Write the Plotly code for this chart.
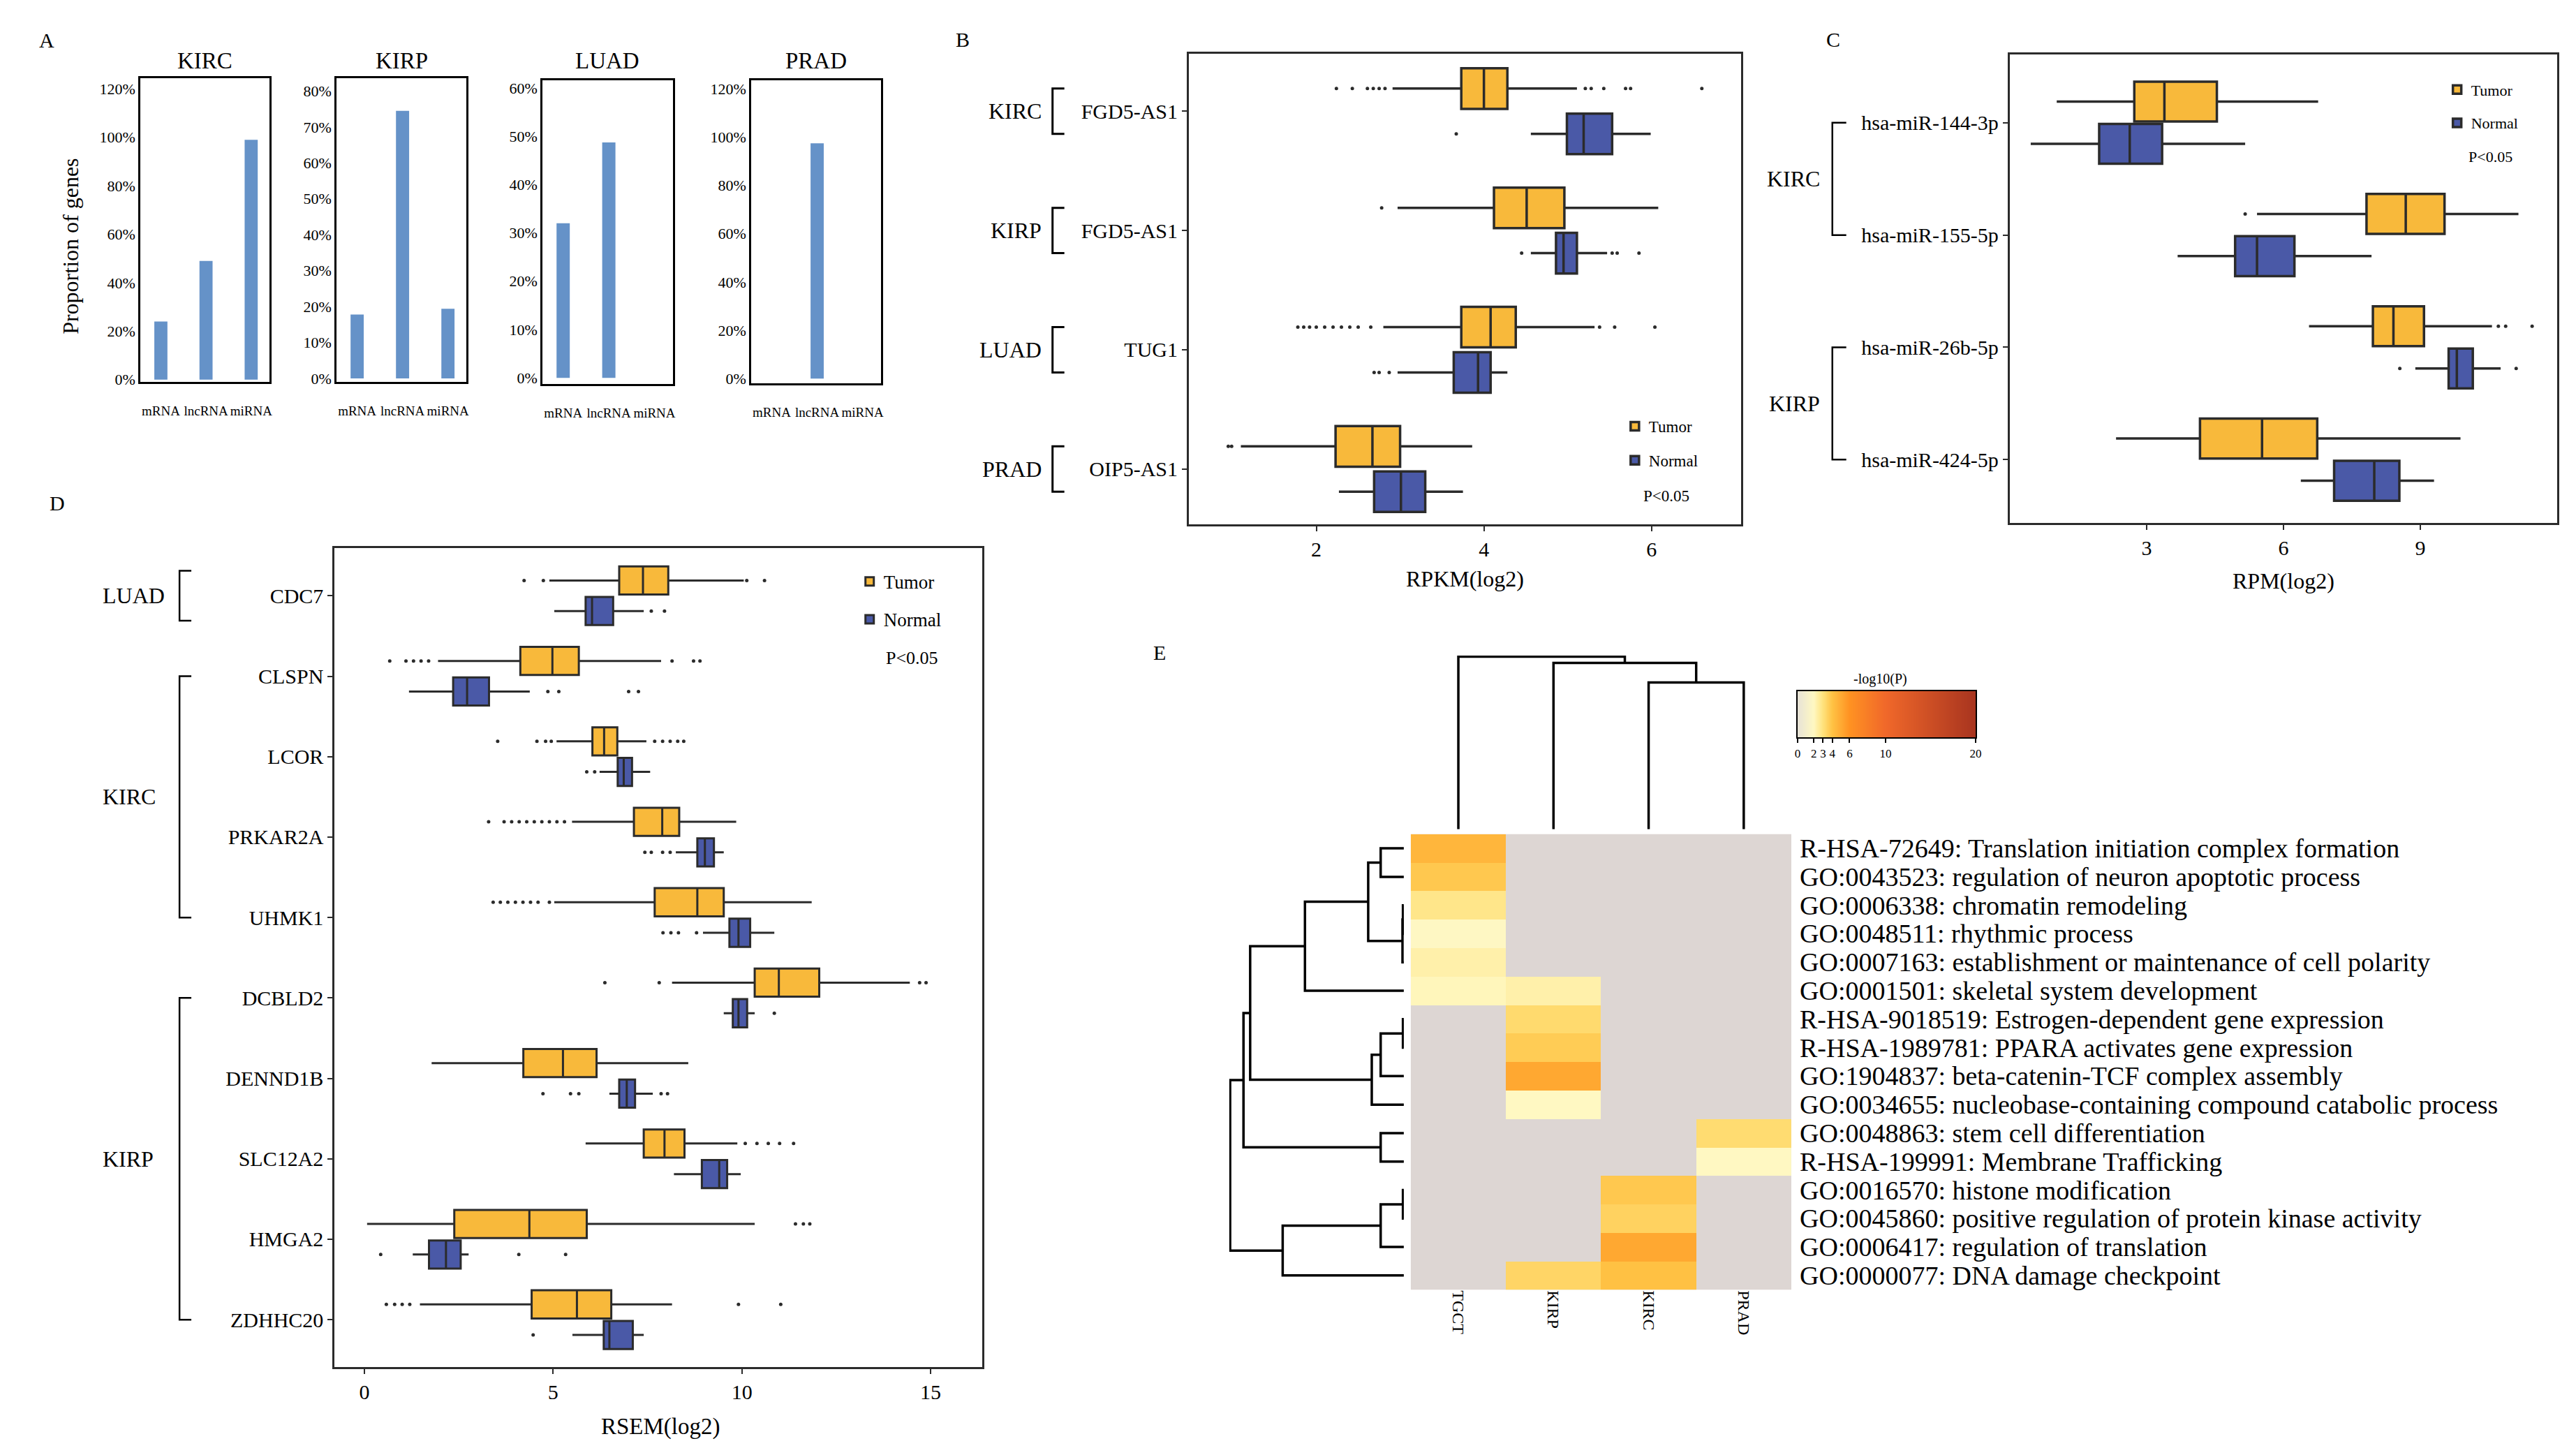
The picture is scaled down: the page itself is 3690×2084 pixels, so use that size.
import numpy as np
import plotly.graph_objects as go

# ======================= DATA =======================
# Panel A : proportion of genes (%)
A_cancers = ["KIRC", "KIRP", "LUAD", "PRAD"]
A_types = ["mRNA", "lncRNA", "miRNA"]
A_kirc = [24.0, 49.0, 99.0]
A_kirp = [17.8, 74.5, 19.4]
A_luad = [32.0, 48.7, 0.0]
A_prad = [0.0, 97.4, 0.0]
A_ticksteps = [20, 10, 10, 20]

# Panel B : RPKM(log2)  stats = [lower whisker, Q1, median, Q3, upper whisker]
B_cancers = ["KIRC", "KIRP", "LUAD", "PRAD"]
B_genes = ["FGD5-AS1", "FGD5-AS1", "TUG1", "OIP5-AS1"]
B_tumor = [[2.91, 3.73, 4.00, 4.28, 5.11],
           [2.97, 4.12, 4.51, 4.96, 6.08],
           [2.80, 3.73, 4.08, 4.38, 5.32],
           [1.10, 2.23, 2.67, 3.00, 3.86]]
B_normal = [[4.56, 4.99, 5.19, 5.53, 5.99],
            [4.56, 4.86, 4.95, 5.11, 5.47],
            [2.97, 3.64, 3.93, 4.08, 4.28],
            [2.27, 2.69, 3.01, 3.30, 3.75]]
B_tumor_out = [[2.24, 2.43, 2.61, 2.68, 2.75, 2.82, 5.21, 5.28, 5.43, 5.69, 5.75, 6.60],
               [2.78],
               [1.78, 1.85, 1.92, 2.0, 2.1, 2.2, 2.3, 2.4, 2.5, 2.65, 5.38, 5.56, 6.04],
               [0.95, 0.99]]
B_normal_out = [[3.67], [4.45, 5.53, 5.59, 5.85], [2.69, 2.75, 2.87], []]

# Panel C : RPM(log2)
C_groups = ["KIRC", "KIRP"]
C_mirs = ["hsa-miR-144-3p", "hsa-miR-155-5p", "hsa-miR-26b-5p", "hsa-miR-424-5p"]
C_tumor = [[1.03, 2.73, 3.39, 4.54, 6.76],
           [5.42, 7.82, 8.68, 9.53, 11.15],
           [6.56, 7.96, 8.41, 9.08, 10.57],
           [2.33, 4.17, 5.53, 6.74, 9.88]]
C_normal = [[0.46, 1.96, 2.63, 3.34, 5.16],
            [3.68, 4.94, 5.42, 6.24, 7.93],
            [8.89, 9.62, 9.80, 10.15, 10.76],
            [6.38, 7.11, 7.99, 8.54, 9.30]]
C_tumor_out = [[], [5.16], [10.71, 10.87, 11.45], []]
C_normal_out = [[], [], [8.55, 11.1], []]

# Panel D : RSEM(log2)
D_genes = ["CDC7", "CLSPN", "LCOR", "PRKAR2A", "UHMK1",
           "DCBLD2", "DENND1B", "SLC12A2", "HMGA2", "ZDHHC20"]
D_group_names = ["LUAD", "KIRC", "KIRP"]
D_group_first = [0, 1, 5]
D_group_last = [0, 4, 9]
D_tumor = [[4.90, 6.75, 7.38, 8.05, 10.05],
           [1.95, 4.13, 4.98, 5.68, 7.86],
           [5.09, 6.04, 6.35, 6.70, 7.47],
           [5.50, 7.14, 7.89, 8.34, 9.85],
           [5.03, 7.69, 8.82, 9.52, 11.85],
           [8.15, 10.34, 10.98, 12.05, 14.45],
           [1.78, 4.21, 5.26, 6.15, 8.58],
           [5.86, 7.40, 7.95, 8.48, 9.88],
           [0.07, 2.38, 4.37, 5.89, 10.34],
           [1.47, 4.43, 5.63, 6.54, 8.15]]
D_normal = [[5.03, 5.86, 6.03, 6.59, 7.40],
            [1.18, 2.35, 2.72, 3.30, 4.38],
            [6.23, 6.71, 6.87, 7.09, 7.57],
            [8.25, 8.82, 9.02, 9.26, 9.52],
            [8.97, 9.67, 9.91, 10.22, 10.86],
            [9.52, 9.76, 9.91, 10.14, 10.34],
            [6.49, 6.75, 6.95, 7.17, 7.64],
            [8.20, 8.94, 9.40, 9.61, 9.97],
            [1.28, 1.71, 2.16, 2.55, 2.76],
            [5.51, 6.34, 6.49, 7.11, 7.40]]
D_tumor_out = [[4.23, 4.74, 10.13, 10.6],
               [0.67, 1.1, 1.3, 1.5, 1.7, 8.15, 8.72, 8.89],
               [3.53, 4.57, 4.8, 4.95, 7.69, 7.9, 8.1, 8.3, 8.46],
               [3.29, 3.7, 3.9, 4.1, 4.3, 4.5, 4.7, 4.9, 5.1, 5.3],
               [3.41, 3.6, 3.8, 4.0, 4.2, 4.4, 4.6, 4.9],
               [6.37, 7.81, 14.71, 14.88],
               [],
               [10.09, 10.4, 10.7, 11.0, 11.37],
               [11.42, 11.63, 11.8],
               [0.58, 0.8, 1.0, 1.2, 9.91, 11.03]]
D_normal_out = [[7.6, 7.95],
                [4.86, 5.15, 7.0, 7.26],
                [5.89, 6.1],
                [7.43, 7.6, 7.9, 8.1],
                [7.91, 8.12, 8.32, 8.8],
                [10.86],
                [4.73, 5.46, 5.68, 7.86, 8.03],
                [],
                [0.43, 4.09, 5.33],
                [4.47]]

# Panel E : enrichment heatmap (-log10 P), None = not enriched
E_cols = ["TGCT", "KIRP", "KIRC", "PRAD"]
E_terms = [
    "R-HSA-72649: Translation initiation complex formation",
    "GO:0043523: regulation of neuron apoptotic process",
    "GO:0006338: chromatin remodeling",
    "GO:0048511: rhythmic process",
    "GO:0007163: establishment or maintenance of cell polarity",
    "GO:0001501: skeletal system development",
    "R-HSA-9018519: Estrogen-dependent gene expression",
    "R-HSA-1989781: PPARA activates gene expression",
    "GO:1904837: beta-catenin-TCF complex assembly",
    "GO:0034655: nucleobase-containing compound catabolic process",
    "GO:0048863: stem cell differentiation",
    "R-HSA-199991: Membrane Trafficking",
    "GO:0016570: histone modification",
    "GO:0045860: positive regulation of protein kinase activity",
    "GO:0006417: regulation of translation",
    "GO:0000077: DNA damage checkpoint",
]
N = None
E_vals = [[4.5, N, N, N],
          [3.8, N, N, N],
          [2.8, N, N, N],
          [1.9, N, N, N],
          [2.35, N, N, N],
          [2.1, 2.35, N, N],
          [N, 3.25, N, N],
          [N, 3.7, N, N],
          [N, 5.1, N, N],
          [N, 2.0, N, N],
          [N, N, N, 3.2],
          [N, N, N, 2.0],
          [N, N, 3.8, N],
          [N, N, 3.5, N],
          [N, N, 5.1, N],
          [N, 3.4, 4.05, N]]
# dendrograms: (child a, child b, height); merged nodes numbered after leaves
E_row_merges = [(0, 1, 52), (2, 3, 2), (17, 4, 3), (16, 18, 80), (19, 5, 222),
                (6, 7, 2), (21, 8, 52), (22, 9, 72), (20, 23, 345), (10, 11, 52),
                (24, 25, 360), (12, 13, 2), (27, 14, 52), (28, 15, 272), (26, 29, 390)]
E_col_merges = [(2, 3, 300), (1, 4, 340), (0, 5, 353)]
# colour key
E_key_vals = [0, 2, 3, 4, 6, 10, 20]
E_key_pos = [0.0, 0.091, 0.143, 0.195, 0.292, 0.494, 1.0]
E_key_colors = ["#E7E3D7", "#FFF8C2", "#FFE27C", "#FFC244", "#FF9222", "#F0682A", "#A8341F"]

# ======================= STYLE / HELPERS =======================
W, H = 3690, 2084
FONT = "Liberation Serif"
TUMOR_FILL = "#F8B93B"
NORMAL_FILL = "#4A59A7"
EDGE = "#2B2B2B"
BAR = "#6592C8"


def fx(p):
    return p / W


def fy(p):
    return 1 - p / H


fig = go.Figure()
layout = dict(width=W, height=H, margin=dict(l=0, r=0, t=0, b=0),
              paper_bgcolor="white", plot_bgcolor="rgba(0,0,0,0)",
              font=dict(family=FONT, color="black"), showlegend=True)
annotations = []
shapes = []


def ann(text, x, y, size, xanchor="center", yanchor="middle", xref="paper", yref="paper", angle=0):
    annotations.append(dict(text=text, x=x, y=y, xref=xref, yref=yref, showarrow=False,
                            xanchor=xanchor, yanchor=yanchor, textangle=angle,
                            font=dict(family=FONT, size=size, color="black")))


# ======================= PANEL A =======================
A_values = [A_kirc, A_kirp, A_luad, A_prad]
A_box = [(190, 375, 103, 540), (472, 658, 103, 540), (768, 955, 106, 543), (1068, 1254, 106, 542)]
A_range = [(-1, 124.3), (-1, 83.5), (-1.3, 61.5), (-2, 123.4)]
for i, cname in enumerate(A_cancers):
    n = i + 1
    xs = "" if n == 1 else str(n)
    x0, x1, y0, y1 = A_box[i]
    fig.add_trace(go.Bar(x=A_types, y=A_values[i], marker=dict(color=BAR, line=dict(width=0)),
                         width=0.29, showlegend=False, xaxis="x" + xs, yaxis="y" + xs))
    layout["xaxis" + xs] = dict(domain=[fx(x0), fx(x1)], anchor="y" + xs, range=[-0.45, 2.4],
                                showline=True, mirror=True, linecolor="black", linewidth=3,
                                ticks="", tickangle=0, tickfont=dict(size=19),
                                ticklabelstandoff=22,
                                showgrid=False, zeroline=False)
    layout["yaxis" + xs] = dict(domain=[fy(y1), fy(y0)], anchor="x" + xs, range=list(A_range[i]),
                                dtick=A_ticksteps[i], tick0=0, ticksuffix="%",
                                showline=True, mirror=True, linecolor="black", linewidth=3,
                                ticks="", tickfont=dict(size=22), showgrid=False, zeroline=False)
    ann(cname, fx((x0 + x1) / 2), fy(77), 33)
ann("Proportion of genes", fx(89), fy(345), 32, angle=-90)
ann("A", fx(55), fy(48), 30)


# ======================= BOX PANELS =======================
def box_panel(idx, dom, xr, yr, labels, tumor, normal, t_out, n_out, off, bw, xticks,
              legend_name, lw, tickfont):
    xa, ya = f"x{idx}", f"y{idx}"
    pos = np.arange(len(labels))
    for name, stats, outs, sign, fill in [("Tumor", tumor, t_out, -1, TUMOR_FILL),
                                          ("Normal", normal, n_out, 1, NORMAL_FILL)]:
        st = np.array(stats)
        fig.add_trace(go.Box(name=name, orientation="h", y=pos + sign * off,
                             lowerfence=st[:, 0], q1=st[:, 1], median=st[:, 2],
                             q3=st[:, 3], upperfence=st[:, 4],
                             fillcolor=fill, line=dict(color=EDGE, width=lw),
                             whiskerwidth=0, width=bw, boxpoints=False,
                             xaxis=xa, yaxis=ya, legend=legend_name,
                             legendgroup=f"{legend_name}-{name}", showlegend=True))
        ox, oy = [], []
        for i, vals in enumerate(outs):
            ox += list(vals)
            oy += [i + sign * off] * len(vals)
        fig.add_trace(go.Scatter(x=ox, y=oy, mode="markers",
                                 marker=dict(size=5, color=EDGE), showlegend=False,
                                 xaxis=xa, yaxis=ya))
    x0, x1, y0, y1 = dom
    layout[f"xaxis{idx}"] = dict(domain=[fx(x0), fx(x1)], anchor=ya, range=list(xr),
                                 tickvals=xticks, ticks="outside", ticklen=7, tickwidth=2,
                                 tickcolor=EDGE, showline=True, mirror=True, linecolor=EDGE,
                                 linewidth=3, showgrid=False, zeroline=False,
                                 tickfont=dict(size=tickfont))
    layout[f"yaxis{idx}"] = dict(domain=[fy(y1), fy(y0)], anchor=xa, range=list(yr),
                                 tickvals=list(pos), ticktext=labels, ticks="outside",
                                 ticklen=7, tickwidth=2, tickcolor=EDGE, showline=True,
                                 mirror=True, linecolor=EDGE, linewidth=3, showgrid=False,
                                 zeroline=False, tickfont=dict(size=tickfont))


def bracket(xv, xt, ya, yb, yref, width=2.5):
    shapes.append(dict(type="path", xref="paper", yref=yref,
                       path=f"M {fx(xt)},{ya} L {fx(xv)},{ya} L {fx(xv)},{yb} L {fx(xt)},{yb}",
                       line=dict(color="black", width=width)))


# ---- B ----
box_panel(5, (1697, 2491, 67, 745), (0.48, 7.07), (3.464, -0.484), B_genes, B_tumor, B_normal,
          B_tumor_out, B_normal_out, 0.19, 0.34, [2, 4, 6], "legend", 3.5, 30)
for i, c in enumerate(B_cancers):
    bracket(1501, 1518, i - 0.19, i + 0.19, "y5", 3)
    ann(c, fx(1487), i, 32, xanchor="right", yref="y5")
ann("RPKM(log2)", fx(2094), fy(823), 32)
ann("P<0.05", fx(2383), fy(704), 23)
ann("B", fx(1372), fy(47), 30)
layout["legend"] = dict(x=fx(2318), y=fy(582), xanchor="left", yanchor="top",
                        font=dict(size=23, family=FONT), bgcolor="rgba(0,0,0,0)",
                        traceorder="grouped", tracegroupgap=16, itemwidth=30)

# ---- C ----
box_panel(6, (2877, 3664, 68, 743), (0.0, 12.0), (3.564, -0.61), C_mirs, C_tumor, C_normal,
          C_tumor_out, C_normal_out, 0.188, 0.355, [3, 6, 9], "legend2", 3.5, 30)
for g, c in enumerate(C_groups):
    bracket(2622, 2642, 2 * g, 2 * g + 1, "y6", 2.5)
    ann(c, fx(2606), 2 * g + 0.5, 32, xanchor="right", yref="y6")
ann("RPM(log2)", fx(3271), fy(826), 32)
ann("P<0.05", fx(3568), fy(216), 22)
ann("C", fx(2623), fy(47), 30)
layout["legend2"] = dict(x=fx(3500), y=fy(98), xanchor="left", yanchor="top",
                         font=dict(size=22, family=FONT), bgcolor="rgba(0,0,0,0)",
                         traceorder="grouped", tracegroupgap=16, itemwidth=30)

# ---- D ----
box_panel(7, (469, 1400, 779, 1958), (-0.79, 16.37), (9.586, -0.594), D_genes, D_tumor, D_normal,
          D_tumor_out, D_normal_out, 0.19, 0.35, [0, 5, 10, 15], "legend3", 3, 30)
for gname, a, b in zip(D_group_names, D_group_first, D_group_last):
    ya, yb = (a - 0.31, b + 0.31) if a == b else (a, b)
    bracket(246, 263, ya, yb, "y7", 2.5)
    ann(gname, fx(133), (a + b) / 2, 32, xanchor="left", yref="y7")
ann("RSEM(log2)", fx(938), fy(2044), 33)
ann("P<0.05", fx(1299), fy(937), 26)
ann("D", fx(70), fy(714), 30)
layout["legend3"] = dict(x=fx(1218), y=fy(803), xanchor="left", yanchor="top",
                         font=dict(size=27, family=FONT), bgcolor="rgba(0,0,0,0)",
                         traceorder="grouped", tracegroupgap=16, itemwidth=30)

# ======================= PANEL E =======================
hm_x = (2016, 2563)
hm_y = (1191, 1847)
nrow, ncol = len(E_terms), len(E_cols)
E_scale = [[v / 20.0, c] for v, c in zip(E_key_vals, E_key_colors)]

shapes.append(dict(type="rect", xref="x8 domain", yref="y8 domain", x0=0, x1=1, y0=0, y1=1,
                   fillcolor="#DDD6D3", line=dict(width=0), layer="below"))
fig.add_trace(go.Heatmap(z=E_vals, x=list(range(ncol)), y=list(range(nrow)),
                         colorscale=E_scale, zmin=0, zmax=20, showscale=False,
                         xaxis="x8", yaxis="y8", hoverongaps=False))
layout["xaxis8"] = dict(domain=[fx(hm_x[0]), fx(hm_x[1])], anchor="y8", range=[-0.5, ncol - 0.5],
                        tickvals=list(range(ncol)), ticktext=E_cols, tickangle=90, ticks="",
                        tickfont=dict(size=24), showline=False, showgrid=False, zeroline=False)
layout["yaxis8"] = dict(domain=[fy(hm_y[1]), fy(hm_y[0])], anchor="x8", range=[nrow - 0.5, -0.5],
                        showticklabels=False, ticks="", showline=False, showgrid=False,
                        zeroline=False)
for i, t in enumerate(E_terms):
    ann(t, fx(2573), i, 38, xanchor="left", yref="y8")


def dendro_lines(n_leaves, merges):
    pos = {i: float(i) for i in range(n_leaves)}
    hgt = {i: 0.0 for i in range(n_leaves)}
    P, Hh = [], []
    for k, (a, b, h) in enumerate(merges):
        P += [pos[a], pos[a], pos[b], pos[b], None]
        Hh += [hgt[a], h, h, hgt[b], None]
        node = n_leaves + k
        pos[node] = (pos[a] + pos[b]) / 2
        hgt[node] = h
    return P, Hh


# column dendrogram
cp, ch = dendro_lines(ncol, E_col_merges)
fig.add_trace(go.Scatter(x=cp, y=ch, mode="lines", line=dict(color="black", width=3.5),
                         showlegend=False, xaxis="x9", yaxis="y9", hoverinfo="skip"))
layout["xaxis9"] = dict(domain=[fx(hm_x[0]), fx(hm_x[1])], anchor="y9", range=[-0.5, ncol - 0.5],
                        visible=False)
layout["yaxis9"] = dict(domain=[fy(1184), fy(934)], anchor="x9",
                        range=[0, max(m[2] for m in E_col_merges) + 2], visible=False)

# row dendrogram
rp, rh = dendro_lines(nrow, E_row_merges)
fig.add_trace(go.Scatter(x=rh, y=rp, mode="lines", line=dict(color="black", width=3.5),
                         showlegend=False, xaxis="x10", yaxis="y10", hoverinfo="skip"))
layout["xaxis10"] = dict(domain=[fx(1755), fx(2006)], anchor="y10",
                         range=[max(m[2] for m in E_row_merges) + 2, 0], visible=False)
layout["yaxis10"] = dict(domain=[fy(hm_y[1]), fy(hm_y[0])], anchor="x10",
                         range=[nrow - 0.5, -0.5], visible=False)

# colour key
key_t = np.linspace(0, 1, 400)
key_z = [list(np.interp(key_t, E_key_pos, E_key_vals))]
fig.add_trace(go.Heatmap(z=key_z, x=key_t, y=[0], colorscale=E_scale, zmin=0, zmax=20,
                         showscale=False, xaxis="x11", yaxis="y11", hoverinfo="skip"))
layout["xaxis11"] = dict(domain=[fx(2572), fx(2828)], anchor="y11", range=[0, 1],
                         tickvals=E_key_pos, ticktext=[str(v) for v in E_key_vals],
                         ticks="outside", ticklen=6, tickwidth=2, tickcolor="black",
                         tickfont=dict(size=17), showline=True, mirror=True, linecolor="black",
                         linewidth=2, showgrid=False, zeroline=False)
layout["yaxis11"] = dict(domain=[fy(1052), fy(985)], anchor="x11", range=[-0.5, 0.5],
                         showticklabels=False, ticks="", showline=True, mirror=True,
                         linecolor="black", linewidth=2, showgrid=False, zeroline=False)
ann("-log10(P)", fx(2691), fy(968), 20)
ann("E", fx(1655), fy(929), 30)

layout["annotations"] = annotations
layout["shapes"] = shapes
fig.update_layout(**layout)
fig.write_html("out.html")
